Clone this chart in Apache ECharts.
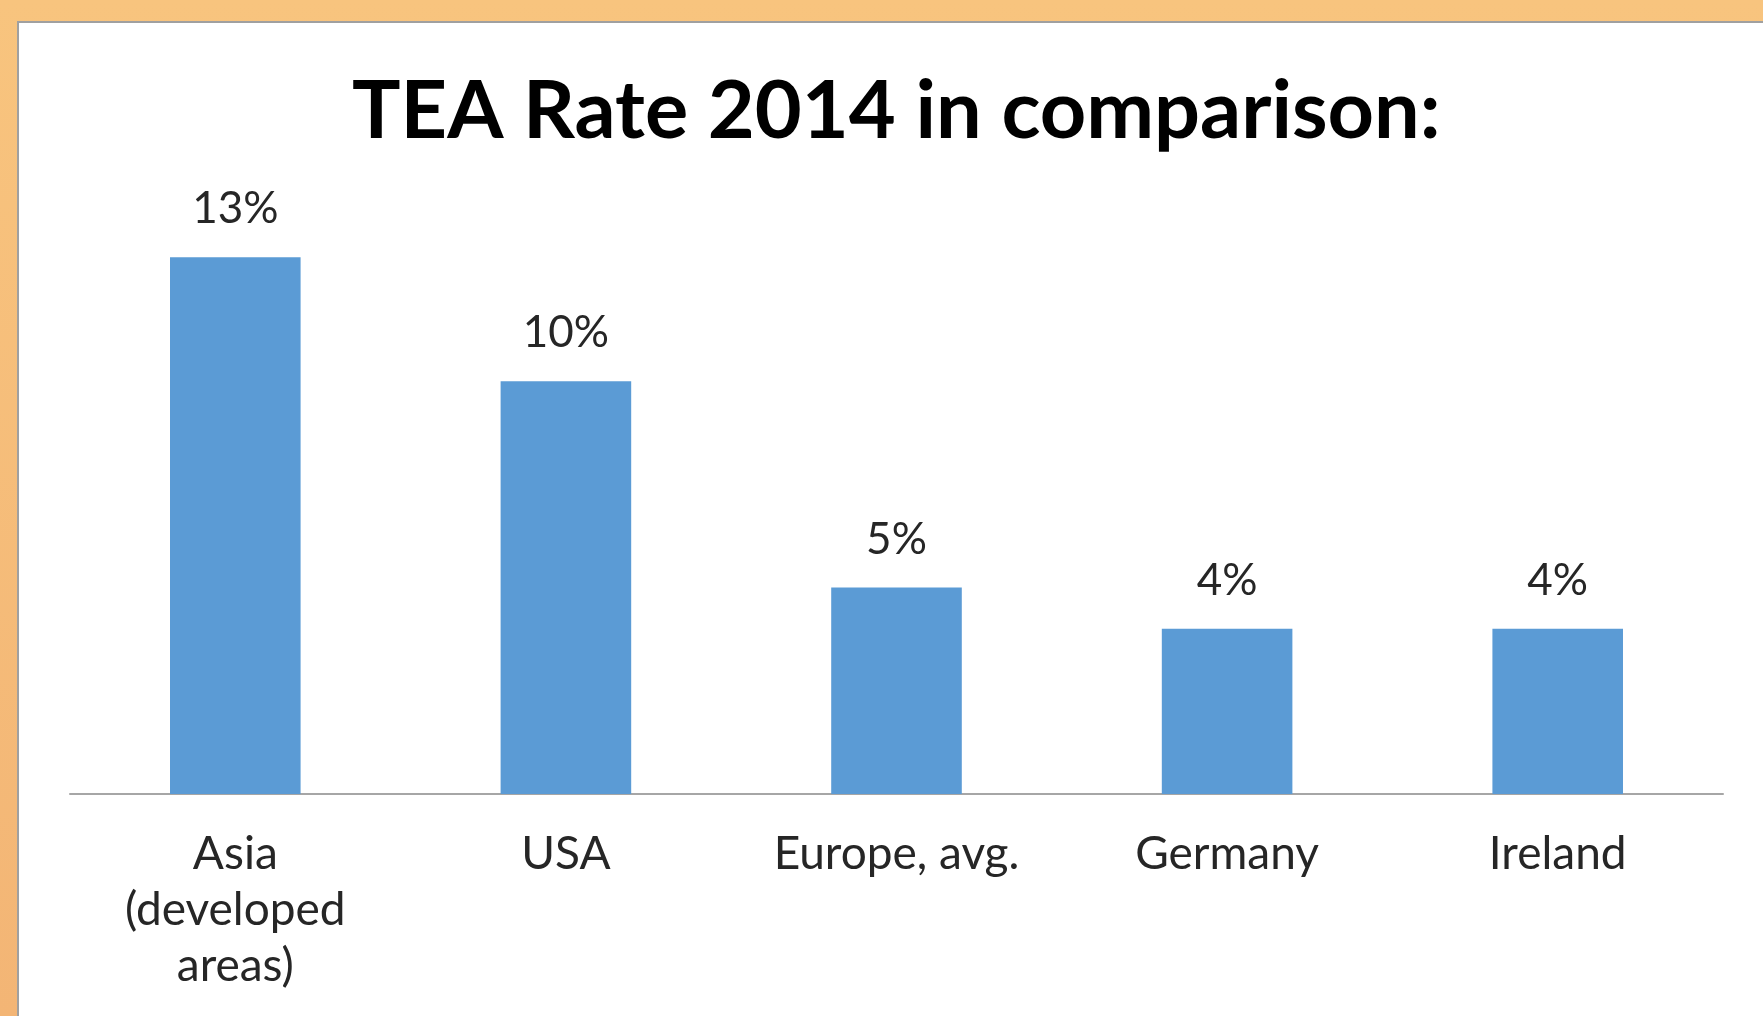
<!DOCTYPE html>
<html>
<head>
<meta charset="utf-8">
<script src="https://cdn.jsdelivr.net/npm/echarts@6/dist/echarts.min.js"></script>
<style>
  html, body { margin: 0; padding: 0; width: 1763px; height: 1016px; overflow: hidden; }
  body { background: linear-gradient(to bottom, #F8C47E 0%, #F3B575 100%); position: relative; }
  #panel { position: absolute; left: 17px; top: 21px; right: 0; bottom: 0; background: #fff;
           border-left: 2px solid #A0A0A0; border-top: 2px solid #A0A0A0; }
  #chart { position: absolute; left: 0; top: 0; width: 1763px; height: 1016px; }
</style>
</head>
<body>
<div id="panel"></div>
<div id="chart"></div>
<script>
const titleText = 'TEA Rate 2014 in comparison:';
const categories = ['Asia\n(developed\nareas)', 'USA', 'Europe, avg.', 'Germany', 'Ireland'];
const teaRate = [13, 10, 5, 4, 4];

const chart = echarts.init(document.getElementById('chart'), null, { renderer: 'canvas' });
chart.setOption({
  backgroundColor: 'transparent',
  animation: false,
  title: {
    text: titleText,
    left: 347,
    top: 64,
    textStyle: { fontFamily: 'Lato', fontWeight: 'bold', fontSize: 81, color: '#000', lineHeight: 86 }
  },
  grid: { left: 70, right: 40, top: 216, bottom: 222, containLabel: false },
  xAxis: {
    type: 'category',
    data: categories,
    axisLine: { show: true, lineStyle: { color: '#A6A6A6', width: 2 } },
    axisTick: { show: false },
    axisLabel: { margin: 32, fontFamily: 'Lato', fontSize: 46, lineHeight: 56, color: '#262626', interval: 0 }
  },
  yAxis: {
    type: 'value', min: 0, max: 14, show: false,
    splitLine: { show: false }
  },
  series: [{
    type: 'bar',
    data: teaRate,
    barWidth: '39.5%',
    itemStyle: { color: '#5B9BD5' },
    label: {
      show: true, position: 'top', distance: 26,
      formatter: p => p.value + '%',
      fontFamily: 'Lato', fontSize: 44, lineHeight: 44, color: '#262626'
    }
  }]
});
</script>
</body>
</html>
